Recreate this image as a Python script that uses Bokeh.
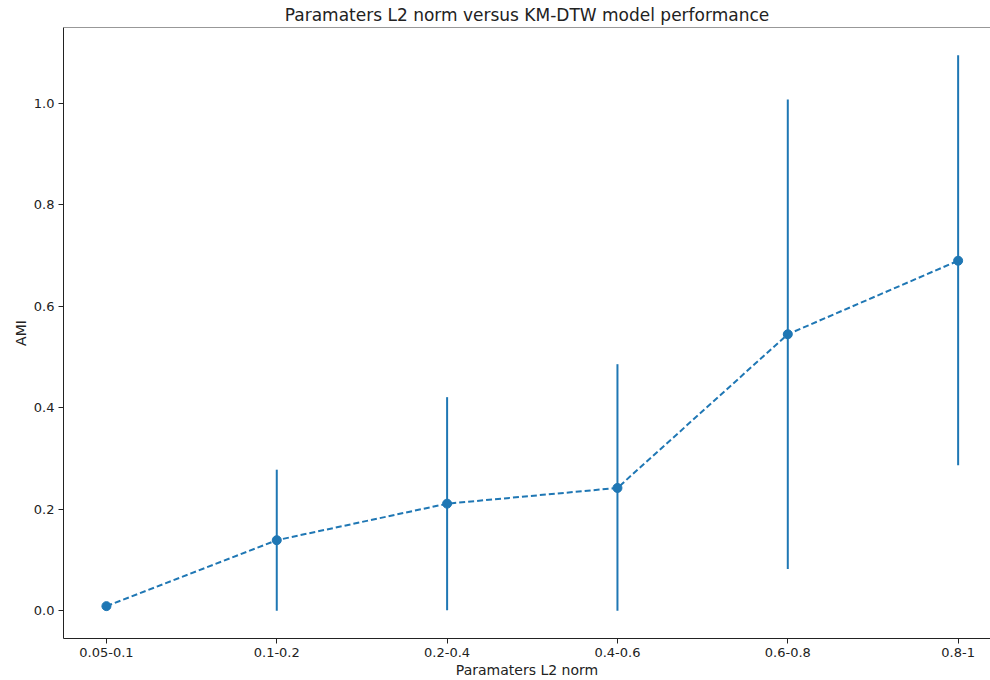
from bokeh.plotting import figure
from bokeh.models import FixedTicker, Range1d, CustomJSTickFormatter, Span
from bokeh.embed import file_html
from bokeh.resources import INLINE

categories = ["0.05-0.1", "0.1-0.2", "0.2-0.4", "0.4-0.6", "0.6-0.8", "0.8-1"]
ami_mean = [0.009, 0.139, 0.211, 0.242, 0.545, 0.690]
ami_lower = [0.009, 0.0, 0.001, 0.0, 0.082, 0.287]
ami_upper = [0.009, 0.278, 0.421, 0.486, 1.008, 1.095]
y_ticks = [0.0, 0.2, 0.4, 0.6, 0.8, 1.0]

xs = list(range(len(categories)))
color = "#1f77b4"
FONT = "DejaVu Sans"
Y_TOP = 1.1498

p = figure(width=990, height=680, output_backend="svg", toolbar_location=None,
           x_range=Range1d(-0.252, 5.19), y_range=Range1d(-0.0548, Y_TOP),
           title="Paramaters L2 norm versus KM-DTW model performance",
           min_border_left=63, min_border_right=0, min_border_top=6, min_border_bottom=40)

p.title.align = "center"
p.title.offset = 6
p.title.text_font = FONT
p.title.text_font_size = "17px"
p.title.text_font_style = "normal"
p.title.text_color = "#222222"
p.title.standoff = 5

p.xgrid.visible = False
p.ygrid.visible = False
p.outline_line_color = None
p.add_layout(Span(location=Y_TOP, dimension="width", line_color="#333333", line_width=1))

p.xaxis.ticker = FixedTicker(ticks=xs)
p.xaxis.major_label_overrides = {i: c for i, c in enumerate(categories)}
p.yaxis.ticker = FixedTicker(ticks=y_ticks)
p.xaxis.axis_label = "Paramaters L2 norm"
p.yaxis.axis_label = "AMI"

for ax in (p.xaxis[0], p.yaxis[0]):
    ax.major_label_text_font = FONT
    ax.major_label_text_font_size = "13px"
    ax.major_label_text_color = "#222222"
    ax.axis_label_text_font = FONT
    ax.axis_label_text_font_size = "14px"
    ax.axis_label_text_font_style = "normal"
    ax.axis_label_text_color = "#222222"
    ax.major_tick_out = 5
    ax.major_tick_in = 0
    ax.minor_tick_out = 0
    ax.minor_tick_in = 0
    ax.axis_line_color = "#222222"
    ax.major_tick_line_color = "#222222"
    ax.major_label_standoff = 4
    ax.axis_label_standoff = 2

p.yaxis[0].formatter = CustomJSTickFormatter(code="return tick.toFixed(1);")

p.segment(x0=xs, y0=ami_lower, x1=xs, y1=ami_upper, line_color=color, line_width=2)
p.line(xs, ami_mean, line_color=color, line_width=2, line_dash="6 3")
p.scatter(xs, ami_mean, size=9, fill_color=color, line_color=color)

open("out.html", "w").write(file_html(p, INLINE))
